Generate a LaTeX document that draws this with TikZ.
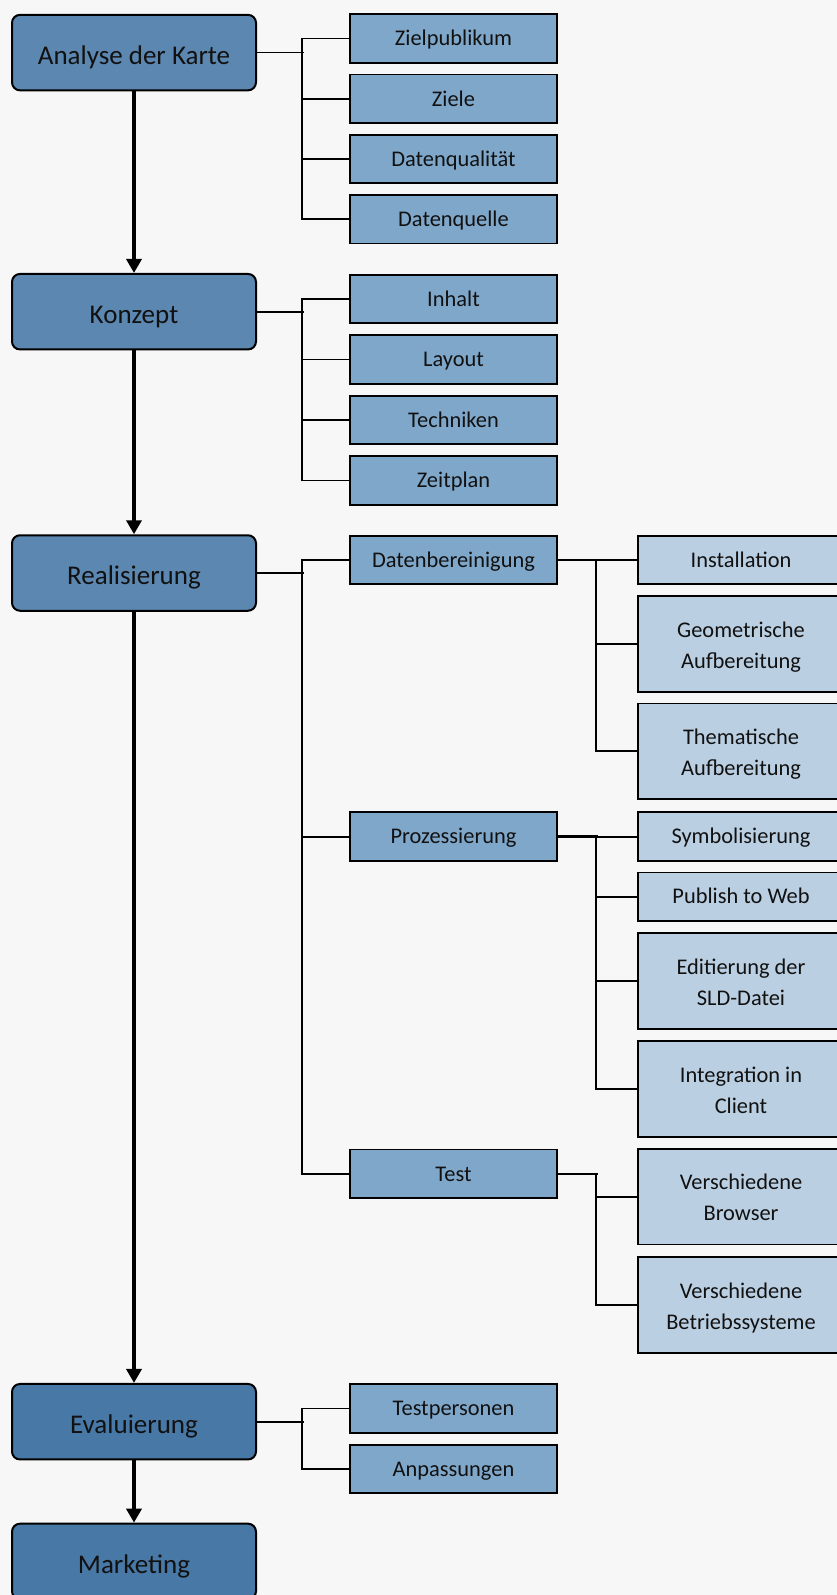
\documentclass[tikz,border=0pt]{standalone}
\usepackage{fontspec}
\setmainfont{Carlito}
\usetikzlibrary{arrows.meta}
\definecolor{bgc}{HTML}{F7F7F7}
\definecolor{mainA}{HTML}{5B87B0}
\definecolor{mainB}{HTML}{4878A6}
\definecolor{secc}{HTML}{7FA7CA}
\definecolor{terc}{HTML}{BBCFE2}
\definecolor{txt}{HTML}{111111}
\newcommand{\twolines}[2]{\smash{#1}\rule{0pt}{18.3pt}\\\smash{#2}\rule[-0.8pt]{0pt}{0.8pt}}
\begin{document}
\begin{tikzpicture}[x=1pt,y=-1pt,
  mainbox/.style={draw=black, line width=2pt, fill=mainA, rounded corners=8pt,
    minimum width=244pt, minimum height=75.5pt, inner sep=0pt, text=txt,
    text height=24pt, text depth=0.8pt,
    font=\fontsize{27}{32}\selectfont},
  secbox/.style={draw=black, line width=1.8pt, fill=secc,
    minimum width=207pt, minimum height=48.5pt, inner sep=0pt, text=txt,
    text height=15.2pt, text depth=0.8pt,
    font=\fontsize{22.4}{30}\selectfont},
  terbox/.style={draw=black, line width=1.8pt, fill=terc,
    minimum width=206pt, minimum height=48.5pt, inner sep=0pt, text=txt,
    text height=15.2pt, text depth=0.8pt,
    font=\fontsize{22.4}{30}\selectfont},
  tallbox/.style={draw=black, line width=1.8pt, fill=terc,
    minimum width=206pt, minimum height=95.7pt, inner sep=0pt, text=txt,
    align=center, font=\fontsize{22.4}{31}\selectfont},
  flow/.style={line width=3.5pt, -{Triangle[width=15pt,length=14pt]}},
  link/.style={line width=1.8pt},
  joinlink/.style={line width=2.6pt}
]
\fill[bgc] (0,0) rectangle (837,1595);
\useasboundingbox (0,0) rectangle (837,1595);

% main boxes
\node[mainbox] (A) at (134,52.6) {Analyse der Karte};
\node[mainbox] (K) at (134,311.7) {Konzept};
\node[mainbox] (R) at (134,573) {Realisierung};
\node[mainbox,fill=mainB] (E) at (134,1421.7) {Evaluierung};
\node[mainbox,fill=mainB] (M) at (134,1561.4) {Marketing};

% secondary boxes
\node[secbox] (s1) at (453.5,38.6) {Zielpublikum};
\node[secbox] (s2) at (453.5,98.8) {Ziele};
\node[secbox] (s3) at (453.5,159) {Datenqualität};
\node[secbox] (s4) at (453.5,219.2) {Datenquelle};
\node[secbox] (s5) at (453.5,298.9) {Inhalt};
\node[secbox] (s6) at (453.5,359.4) {Layout};
\node[secbox] (s7) at (453.5,419.9) {Techniken};
\node[secbox] (s8) at (453.5,480.4) {Zeitplan};
\node[secbox] (db) at (453.5,560) {Datenbereinigung};
\node[secbox] (pz) at (453.5,836.6) {Prozessierung};
\node[secbox] (ts) at (453.5,1173.8) {Test};
\node[secbox] (tp) at (453.5,1408.5) {Testpersonen};
\node[secbox] (an) at (453.5,1469) {Anpassungen};

% tertiary boxes
\node[terbox] (t1) at (741,560) {Installation};
\node[tallbox] (t2) at (741,643.8) {\twolines{Geometrische}{Aufbereitung}};
\node[tallbox] (t3) at (741,751.3) {\twolines{Thematische}{Aufbereitung}};
\node[terbox] (t4) at (741,836.6) {Symbolisierung};
\node[terbox] (t5) at (741,896.7) {Publish to Web};
\node[tallbox] (t6) at (741,981) {\twolines{Editierung der}{SLD-Datei}};
\node[tallbox] (t7) at (741,1089) {\twolines{Integration in}{Client}};
\node[tallbox] (t8) at (741,1196.7) {\twolines{Verschiedene}{Browser}};
\node[tallbox] (t9) at (741,1305) {\twolines{Verschiedene}{Betriebssysteme}};

% main flow
\draw[flow] (A.south) -- (K.north);
\draw[flow] (K.south) -- (R.north);
\draw[flow] (R.south) -- (E.north);
\draw[flow] (E.south) -- (M.north);

% branches: Analyse
\draw[link] (A.east) -- ++(47,0);
\draw[link] (s1.west) -- ++(-47,0) |- (s4.west);
\draw[link] (s2.west) -- ++(-47,0);
\draw[link] (s3.west) -- ++(-47,0);
% Konzept
\draw[link] (K.east) -- ++(47,0);
\draw[link] (s5.west) -- ++(-47,0) |- (s8.west);
\draw[link] (s6.west) -- ++(-47,0);
\draw[link] (s7.west) -- ++(-47,0);
% Realisierung
\draw[link] (R.east) -- ++(47,0);
\draw[link] (db.west) -- ++(-47,0) |- (ts.west);
\draw[link] (pz.west) -- ++(-47,0);
% Evaluierung
\draw[link] (E.east) -- ++(47,0);
\draw[link] (tp.west) -- ++(-47,0) |- (an.west);

% Datenbereinigung
\draw[link] (db.east) -- (t1.west);
\draw[joinlink] (db.east) -- ++(40,0);
\draw[link] (t3.west) -- ++(-41,0) |- (db.east);
\draw[link] (t2.west) -- ++(-41,0);
% Prozessierung
\draw[link] (pz.east) -- (t4.west);
\draw[joinlink] (pz.east) -- ++(40,0);
\draw[link] (t7.west) -- ++(-41,0) |- (pz.east);
\draw[link] (t5.west) -- ++(-41,0);
\draw[link] (t6.west) -- ++(-41,0);
% Test
\draw[joinlink] (ts.east) -- ++(40,0);
\draw[link] (t9.west) -- ++(-41,0) |- (ts.east);
\draw[link] (t8.west) -- ++(-41,0);
\end{tikzpicture}
\end{document}
